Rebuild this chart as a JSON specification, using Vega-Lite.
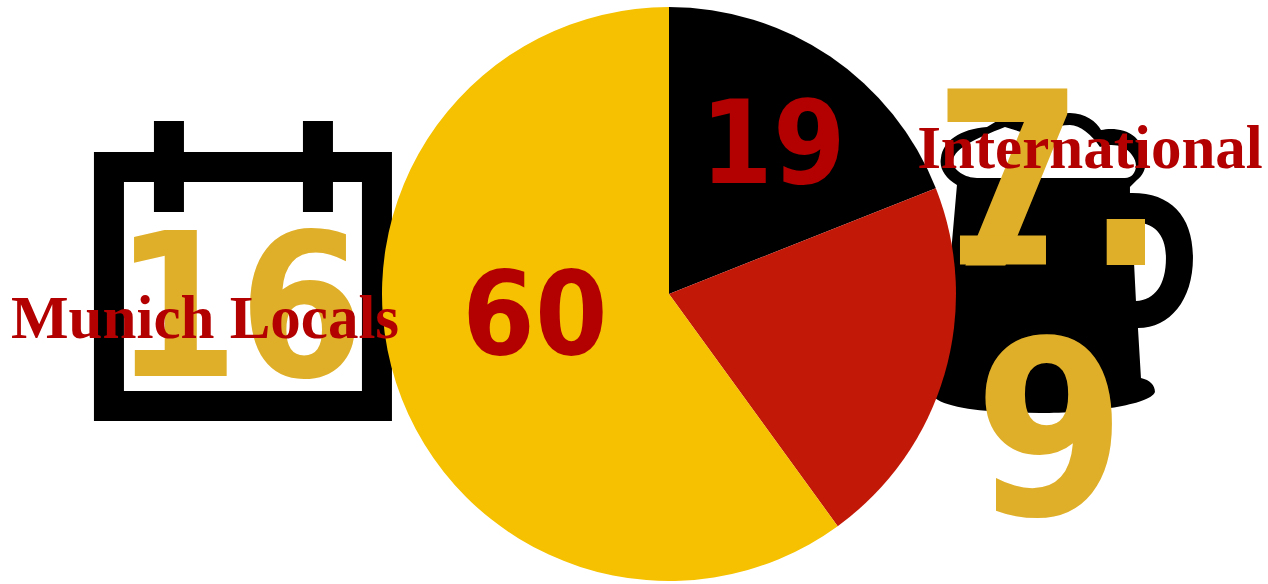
{
  "$schema": "https://vega.github.io/schema/vega-lite/v6.json",
  "width": 1268,
  "height": 584,
  "padding": 0,
  "autosize": {"type": "none"},
  "background": "white",
  "view": {"stroke": null},
  "datasets": {
    "slices": [
      {"segment": "black", "slice_order": 1, "share": 19},
      {"segment": "red", "slice_order": 2, "share": 21},
      {"segment": "yellow", "slice_order": 3, "share": 60}
    ],
    "stats": [
      {"group": "Munich Locals", "visits": "16"},
      {"group": "International", "visits": ["7.", "9"]}
    ]
  },
  "layer": [
    {
      "data": {"values": [{"icon": "beer mug"}]},
      "mark": {"type": "point", "filled": true, "opacity": 1, "size": 4, "color": "#000000", "strokeWidth": 0,
        "shape": "M-88,-78 C-100,-85 -106,-95 -104,-105 C-102,-122 -85,-134 -58,-136 L-38,-148 L-20,-148 L25,-150 C40,-150 52,-141 56,-133 C65,-135 80,-135 90,-126 C103,-113 105,-93 92,-83 L85,-76 L85,-70 C125,-71 148,-48 148,-5 C148,37 125,65 93,65 L96,115 C105,117 110,122 110,129 C105,142 45,150 -5,150 C-45,150 -95,147 -110,135 L-105,117 Z M-68,-85 L80,-85 C90,-85 95,-98 87,-108 C80,-118 67,-120 55,-116 C47,-128 35,-138 25,-138 C10,-138 5,-133 -5,-125 L-40,-136 C-70,-124 -90,-115 -92,-103 C-93,-93 -80,-85 -68,-85 Z M91,38 C110,37 121,22 121,-5 C121,-28 110,-41 87,-41 Z"},
      "encoding": {
        "x": {"datum": 82.41, "type": "quantitative", "scale": {"domain": [0, 100]}, "axis": null},
        "y": {"datum": 45.03, "type": "quantitative", "scale": {"domain": [0, 100], "reverse": true}, "axis": null}
      }
    },
    {
      "data": {"values": [{"icon": "calendar"}]},
      "mark": {"type": "point", "filled": true, "opacity": 1, "size": 4, "color": "#000000", "strokeWidth": 0,
        "shape": "M-149,-119 H-89 V-150 H-59 V-119 H60 V-150 H90 V-119 H149 V150 H-149 Z M-119,-89 V120 H119 V-89 H90 V-59 H60 V-89 H-59 V-59 H-89 V-89 Z"},
      "encoding": {
        "x": {"datum": 19.16, "type": "quantitative"},
        "y": {"datum": 46.4, "type": "quantitative"}
      }
    },
    {
      "data": {"name": "slices"},
      "mark": {"type": "arc", "outerRadius": 287},
      "encoding": {
        "x": {"datum": 52.76, "type": "quantitative"},
        "y": {"datum": 50.34, "type": "quantitative"},
        "theta": {"field": "share", "type": "quantitative", "stack": true},
        "order": {"field": "slice_order"},
        "color": {
          "field": "segment",
          "type": "nominal",
          "scale": {"domain": ["black", "red", "yellow"], "range": ["#000000", "#c21807", "#f5c100"]},
          "legend": null
        }
      }
    },
    {
      "data": {"name": "slices"},
      "transform": [{"filter": "datum.segment === 'black'"}],
      "mark": {"type": "text", "font": "DejaVu Sans Condensed", "fontWeight": "bold", "fontSize": 116, "color": "#b30000", "align": "center", "baseline": "alphabetic"},
      "encoding": {
        "x": {"datum": 60.96, "type": "quantitative"},
        "y": {"datum": 31.34, "type": "quantitative"},
        "text": {"field": "share", "type": "quantitative"}
      }
    },
    {
      "data": {"name": "slices"},
      "transform": [{"filter": "datum.segment === 'yellow'"}],
      "mark": {"type": "text", "font": "DejaVu Sans Condensed", "fontWeight": "bold", "fontSize": 116, "color": "#b30000", "align": "center", "baseline": "alphabetic"},
      "encoding": {
        "x": {"datum": 42.19, "type": "quantitative"},
        "y": {"datum": 60.62, "type": "quantitative"},
        "text": {"field": "share", "type": "quantitative"}
      }
    },
    {
      "data": {"name": "stats"},
      "transform": [{"filter": "datum.group === 'Munich Locals'"}],
      "mark": {"type": "text", "font": "DejaVu Sans Condensed", "fontWeight": "bold", "fontSize": 200, "color": "#e0af29", "align": "center", "baseline": "alphabetic"},
      "encoding": {
        "x": {"datum": 18.85, "type": "quantitative"},
        "y": {"datum": 64.38, "type": "quantitative"},
        "text": {"field": "visits"}
      }
    },
    {
      "data": {"name": "stats"},
      "transform": [{"filter": "datum.group === 'International'"}],
      "mark": {"type": "text", "font": "DejaVu Sans Condensed", "fontWeight": "bold", "fontSize": 242, "lineHeight": 250, "color": "#e0af29", "align": "center", "baseline": "alphabetic"},
      "encoding": {
        "x": {"datum": 82.81, "type": "quantitative"},
        "y": {"datum": 45.38, "type": "quantitative"},
        "text": {"field": "visits"}
      }
    },
    {
      "data": {"values": [{"detail": "foot of the seven"}]},
      "mark": {"type": "point", "filled": true, "opacity": 1, "size": 4, "color": "#e0af29", "strokeWidth": 0,
        "shape": "M-43,-14.5 H43 V14.5 H-43 Z"},
      "encoding": {
        "x": {"datum": 79.1, "type": "quantitative"},
        "y": {"datum": 42.81, "type": "quantitative"}
      }
    },
    {
      "data": {"name": "stats"},
      "transform": [{"filter": "datum.group === 'Munich Locals'"}],
      "mark": {"type": "text", "font": "Liberation Serif", "fontWeight": "bold", "fontSize": 61, "color": "#b30000", "align": "center", "baseline": "alphabetic"},
      "encoding": {
        "x": {"datum": 16.17, "type": "quantitative"},
        "y": {"datum": 57.88, "type": "quantitative"},
        "text": {"field": "group"}
      }
    },
    {
      "data": {"name": "stats"},
      "transform": [{"filter": "datum.group === 'International'"}],
      "mark": {"type": "text", "font": "Liberation Serif", "fontWeight": "bold", "fontSize": 61, "color": "#b30000", "align": "center", "baseline": "alphabetic"},
      "encoding": {
        "x": {"datum": 85.96, "type": "quantitative"},
        "y": {"datum": 28.77, "type": "quantitative"},
        "text": {"field": "group"}
      }
    }
  ]
}
